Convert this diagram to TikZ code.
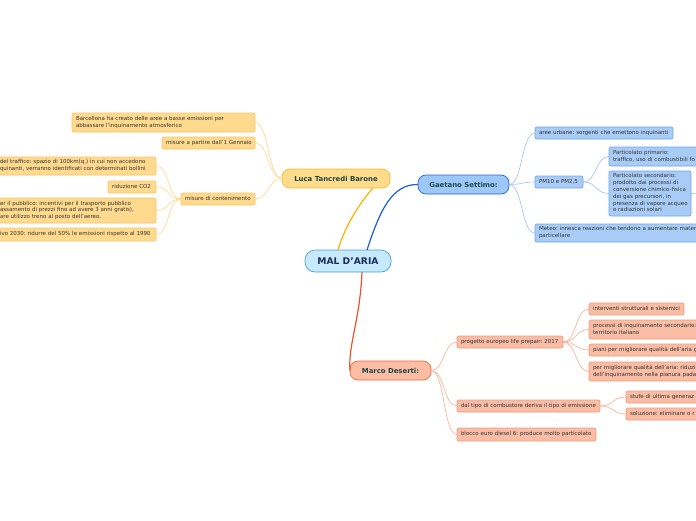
\documentclass[tikz,border=0pt]{standalone}
\usepackage{fontspec}
\setmainfont{DejaVu Sans}
\frenchspacing
\definecolor{rootF}{HTML}{C6E9FB}\definecolor{rootB}{HTML}{4A9FD8}\definecolor{rootT}{HTML}{1C2E5C}
\definecolor{mainT}{HTML}{1E4747}\definecolor{childT}{HTML}{333333}
\definecolor{lucaF}{HTML}{FFDB8C}\definecolor{lucaB}{HTML}{F5B82E}\definecolor{lucaCF}{HTML}{FFDA8E}\definecolor{lucaCB}{HTML}{F6C56A}\definecolor{lucaL}{HTML}{FDD584}\definecolor{lucaM}{HTML}{F8B300}
\definecolor{gaeF}{HTML}{9EC8F9}\definecolor{gaeB}{HTML}{2166D0}\definecolor{gaeCF}{HTML}{A9CCF7}\definecolor{gaeCB}{HTML}{6FA4EA}\definecolor{gaeL}{HTML}{9CC0F2}\definecolor{gaeM}{HTML}{1B5ED0}
\definecolor{marF}{HTML}{FBBDA4}\definecolor{marB}{HTML}{EE6A3C}\definecolor{marCF}{HTML}{F9BDA6}\definecolor{marCB}{HTML}{F49A78}\definecolor{marL}{HTML}{F9A98C}\definecolor{marM}{HTML}{E8542A}
\newcommand{\kt}[1]{\begin{tabular}{@{}l@{}}#1\end{tabular}}
\newcommand{\kbox}[7]{%
 \pgfmathsetmacro{\kw}{#5-#3-8}\pgfmathsetmacro{\kh}{#6-#4}%
 \node[#2, anchor=north west, minimum height=\kh pt, text width=\kw pt] (#1) at (#3,#4) {\kt{#7}};}
\tikzset{
 base/.style={draw, outer sep=0pt, inner xsep=4pt, inner ysep=1pt, align=left, line width=0.7pt},
 child/.style={base, rounded corners=2pt, text=childT, font=\fontsize{5.5}{6.8}\selectfont},
 luc/.style={child, fill=lucaCF, draw=lucaCB},
 gae/.style={child, fill=gaeCF, draw=gaeCB},
 mar/.style={child, fill=marCF, draw=marCB},
 mainbox/.style={base, rounded corners=8pt, text=mainT, font=\fontsize{6.9}{8}\selectfont\bfseries, align=center},
 lin/.style={line width=0.6pt},
}
\begin{document}
\begin{tikzpicture}[x=1pt,y=-1pt]
\useasboundingbox (0,0) rectangle (696,520);
% root
\node[base, rounded corners=10pt, fill=rootF, draw=rootB, text=rootT, font=\fontsize{9.2}{10}\selectfont\bfseries, anchor=north west, minimum width=86pt, minimum height=22pt, align=center] (root) at (305,250) {MAL D'ARIA};
\node[mainbox, fill=lucaF, draw=lucaB, anchor=north west, minimum width=108pt, minimum height=19pt] (luca) at (282,169) {Luca Tancredi Barone};
\node[mainbox, fill=gaeF, draw=gaeB, anchor=north west, minimum width=91pt, minimum height=19pt] (gae) at (418,175) {Gaetano Settimo:};
\node[mainbox, fill=marF, draw=marB, anchor=north west, minimum width=81pt, minimum height=19pt] (mar) at (350,361) {Marco Deserti:};
% main connectors
\draw[lucaM, line width=1.2pt] ([xshift=-10pt]root.north) .. controls (345,225) and (362,200) .. ([xshift=37pt]luca.south);
\draw[gaeM, line width=1.2pt] ([xshift=19pt]root.north) .. controls (380,210) and (392,184) .. (gae.west);
\draw[marM, line width=1.2pt] ([xshift=14pt]root.south) .. controls (360,320) and (348,345) .. (mar.west);
% Luca children
\kbox{barc}{luc}{72}{113}{255}{132}{Barcellona ha creato delle aree a basse emissioni per\\abbassare l'inquinamento atmosferico}
\kbox{genn}{luc}{162}{137}{255}{149}{misure a partire dall'1 Gennaio}
\kbox{cont}{luc}{181}{193}{255}{205}{misure di contenimento}
\kbox{traff}{luc}{-4}{157}{156}{175}{del traffico: spazio di 100km(q.) in cui non accedono\\quinanti, verranno identificati con determinati bollini}
\kbox{co2}{luc}{108}{181}{156}{193}{riduzione CO2}
\kbox{pubb}{luc}{-4}{198}{156}{223}{er il pubblico: incentivi per il trasporto pubblico\\assamento di prezzi fino  ad avere 3 anni gratis),\\are utilizzo treno al posto dell'aereo.}
\kbox{obiet}{luc}{-4}{228}{156}{241}{ivo 2030: ridurre del 50\% le emissioni rispetto al 1990}
\foreach \t in {barc,genn,cont}
 \draw[lin, lucaL] (luca.west) .. controls +(-14,0) and +(14,0) .. (\t.east);
\foreach \t in {traff,co2,pubb,obiet}
 \draw[lin, lucaL] (cont.west) .. controls +(-14,0) and +(14,0) .. (\t.east);
% Gaetano children
\kbox{urb}{gae}{535}{127}{673}{139}{aree urbane: sorgenti che emettono inquinanti}
\kbox{pm}{gae}{535}{176}{583}{188}{PM10 e PM2,5}
\kbox{prim}{gae}{609}{147}{740}{166}{Particolato primario:\\traffico, uso di combustibili fo}
\kbox{sec}{gae}{609}{171}{691}{216}{Particolato secondario:\\prodotto dai processi di\\conversione chimico-fisica\\dei gas precursori, in\\presenza di vapore acqueo\\e radiazioni solari}
\kbox{meteo}{gae}{535}{224}{780}{242}{Meteo: innesca reazioni che tendono a aumentare mater\\particellare}
\coordinate (offr) at (710,192);
\foreach \t in {urb,pm,meteo}
 \draw[lin, gaeL] (gae.east) .. controls +(14,0) and +(-14,0) .. (\t.west);
\foreach \t in {prim,sec}
 \draw[lin, gaeL] (pm.east) .. controls +(14,0) and +(-14,0) .. (\t.west);
\draw[lin, gaeL] (sec.east) .. controls +(8,0) and +(-8,0) .. (offr);
% Marco children
\kbox{prog}{mar}{457}{336}{563}{348}{progetto europeo life prepair: 2017}
\kbox{interv}{mar}{589}{303}{684}{315}{interventi strutturali e sistemici}
\kbox{proc}{mar}{589}{320}{780}{339}{processi di inquinamento secondario:\\territorio italiano}
\kbox{piani}{mar}{589}{344}{780}{356}{piani per migliorare qualità dell'aria g}
\kbox{ridu}{mar}{589}{362}{780}{381}{per migliorare qualità dell'aria: riduzi\\dell'inquinamento nella pianura pada}
\kbox{comb}{mar}{457}{400}{600}{412}{dal tipo di combustore deriva il tipo di emissione}
\kbox{stufe}{mar}{626}{391}{780}{403}{stufe di ultima generaz}
\kbox{sol}{mar}{626}{408}{780}{420}{soluzione: eliminare o r}
\kbox{euro}{mar}{457}{428}{596}{441}{blocco euro diesel 6: produce molto particolato}
\foreach \t in {prog,comb,euro}
 \draw[lin, marL] (mar.east) .. controls +(14,0) and +(-14,0) .. (\t.west);
\foreach \t in {interv,proc,piani,ridu}
 \draw[lin, marL] (prog.east) .. controls +(14,0) and +(-14,0) .. (\t.west);
\foreach \t in {stufe,sol}
 \draw[lin, marL] (comb.east) .. controls +(14,0) and +(-14,0) .. (\t.west);
\end{tikzpicture}
\end{document}
